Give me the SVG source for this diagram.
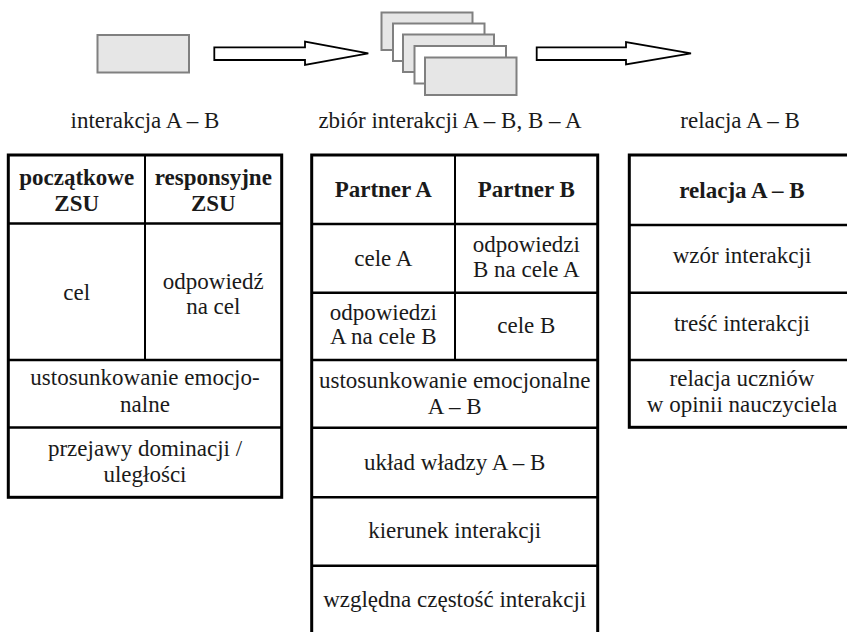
<svg xmlns="http://www.w3.org/2000/svg" width="847" height="632" viewBox="0 0 847 632">
<style>
text{font-family:"Liberation Serif","Times New Roman",serif;font-size:23px;fill:#1a1a1a;text-anchor:middle}
.b{font-weight:bold}
.card{stroke:#808080;stroke-width:2}
.g{fill:#e6e6e6}
.w{fill:#ffffff}
.outer{fill:#ffffff;stroke:#000;stroke-width:3}
.rl{stroke:#000;stroke-width:2.5;fill:none}
.cl{stroke:#000;stroke-width:2;fill:none}
.arrow{fill:#ffffff;stroke:#000;stroke-width:1.8;stroke-linejoin:miter}
</style>
<rect width="847" height="632" fill="#ffffff"/>

<g id="node-interakcja">
<rect class="card g" x="97.5" y="35" width="91.5" height="37.5"/>
<text x="145" y="128">interakcja A – B</text>
</g>

<g id="node-zbior">
<rect class="card g" x="381.5" y="12.5" width="91" height="37.5"/>
<rect class="card w" x="393" y="23.5" width="91.5" height="37.5"/>
<rect class="card g" x="403" y="34.5" width="91" height="37.5"/>
<rect class="card w" x="414.5" y="46" width="91.5" height="37.5"/>
<rect class="card g" x="425" y="57.5" width="91.5" height="37.5"/>
<text x="450" y="128">zbiór interakcji A – B, B – A</text>
</g>

<g id="node-relacja">
<text x="740" y="128">relacja A – B</text>
</g>

<g id="connectors">
<polygon class="arrow" points="214.3,47.3 305,47.3 305,41.7 368.3,53.3 305,65 305,60 214.3,60"/>
<polygon class="arrow" points="536.7,47.3 626,47.3 626,42 691,53.3 626,64.5 626,60 536.7,60"/>
</g>

<g id="table-interakcja">
<rect class="outer" x="8.3" y="155" width="273.4" height="342.3"/>
<line class="cl" x1="145" y1="155" x2="145" y2="360"/>
<line class="rl" x1="8.3" y1="223.5" x2="281.7" y2="223.5"/>
<line class="rl" x1="8.3" y1="360" x2="281.7" y2="360"/>
<line class="rl" x1="8.3" y1="427.5" x2="281.7" y2="427.5"/>
<text class="b" x="76.7" y="185">początkowe</text>
<text class="b" x="76.7" y="210.7">ZSU</text>
<text class="b" x="213.3" y="185">responsyjne</text>
<text class="b" x="213.3" y="210.7">ZSU</text>
<text x="76.7" y="300">cel</text>
<text x="213.3" y="289">odpowiedź</text>
<text x="213.3" y="314">na cel</text>
<text x="145" y="385">ustosunkowanie emocjo-</text>
<text x="145" y="411.7">nalne</text>
<text x="145" y="455.5">przejawy dominacji /</text>
<text x="145" y="481.7">uległości</text>
</g>

<g id="table-zbior">
<rect class="outer" x="311.7" y="155" width="286" height="480"/>
<line class="cl" x1="455" y1="155" x2="455" y2="360"/>
<line class="rl" x1="311.7" y1="224" x2="597.7" y2="224"/>
<line class="rl" x1="311.7" y1="292.7" x2="597.7" y2="292.7"/>
<line class="rl" x1="311.7" y1="360" x2="597.7" y2="360"/>
<line class="rl" x1="311.7" y1="427.7" x2="597.7" y2="427.7"/>
<line class="rl" x1="311.7" y1="497.3" x2="597.7" y2="497.3"/>
<line class="rl" x1="311.7" y1="565.7" x2="597.7" y2="565.7"/>
<text class="b" x="383.3" y="197.3">Partner A</text>
<text class="b" x="526.3" y="197.3">Partner B</text>
<text x="383.3" y="266">cele A</text>
<text x="526.3" y="251.7">odpowiedzi</text>
<text x="526.3" y="276.7">B na cele A</text>
<text x="383.3" y="320">odpowiedzi</text>
<text x="383.3" y="344">A na cele B</text>
<text x="526.3" y="333.3">cele B</text>
<text x="454.7" y="388.3">ustosunkowanie emocjonalne</text>
<text x="454.7" y="414">A – B</text>
<text x="454.7" y="470">układ władzy A – B</text>
<text x="454.7" y="538.3">kierunek interakcji</text>
<text x="454.7" y="606.7">względna częstość interakcji</text>
</g>

<g id="table-relacja">
<rect class="outer" x="629.3" y="155" width="226" height="272.3"/>
<line class="rl" x1="629.3" y1="225" x2="855.3" y2="225"/>
<line class="rl" x1="629.3" y1="292.7" x2="855.3" y2="292.7"/>
<line class="rl" x1="629.3" y1="360" x2="855.3" y2="360"/>
<text class="b" x="742" y="197.7">relacja A – B</text>
<text x="742" y="263.3">wzór interakcji</text>
<text x="742" y="330.7">treść interakcji</text>
<text x="742" y="386">relacja uczniów</text>
<text x="742" y="411.7">w opinii nauczyciela</text>
</g>
</svg>
